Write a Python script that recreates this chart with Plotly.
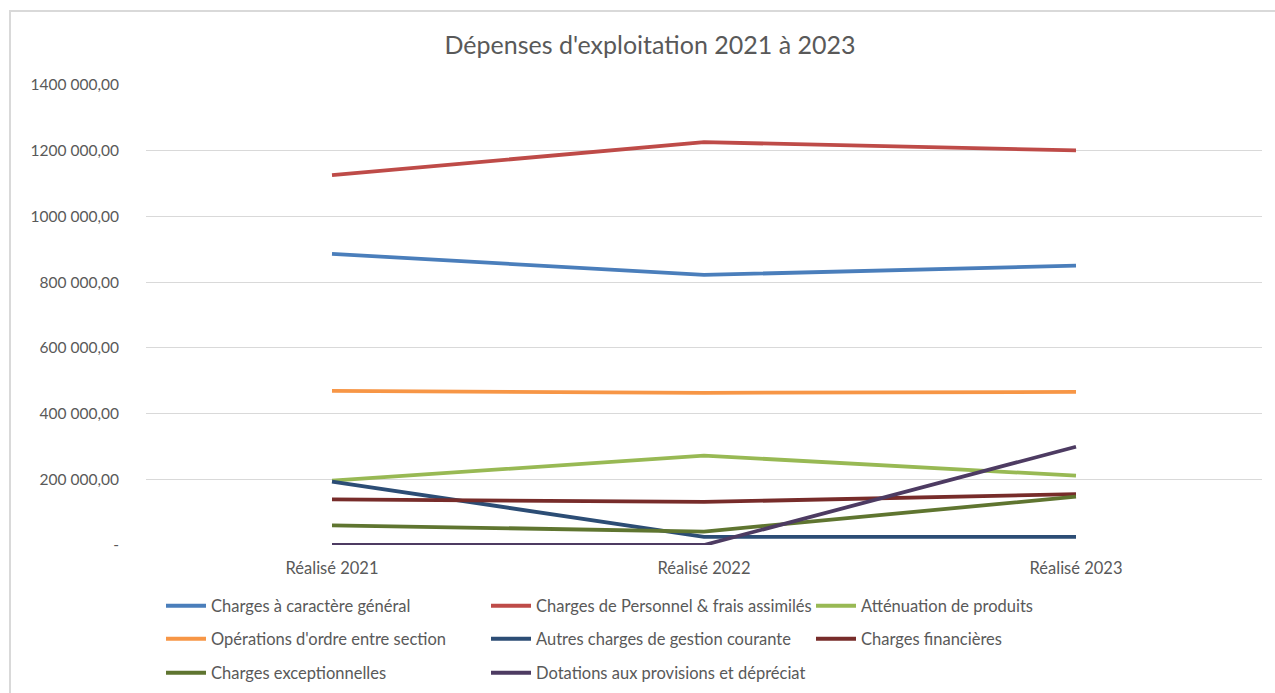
import plotly.graph_objects as go

# Operating expenses by budget line, 2021-2023
years = ["Réalisé 2021", "Réalisé 2022", "Réalisé 2023"]

charges_generales = [886000, 822000, 850000]
charges_personnel = [1126000, 1226000, 1201000]
attenuation_produits = [196000, 272000, 211000]
operations_ordre = [469000, 463000, 466000]
autres_charges = [193000, 25000, 25000]
charges_financieres = [139000, 131000, 155000]
charges_exceptionnelles = [60000, 41000, 147000]
dotations_provisions = [0, 0, 299000]

tick_values = [0, 200000, 400000, 600000, 800000, 1000000, 1200000, 1400000]
tick_labels = ["-", "200 000,00", "400 000,00", "600 000,00", "800 000,00",
               "1000 000,00", "1200 000,00", "1400 000,00"]

series = [
    ("Charges à caractère général", charges_generales, "#4a7ebb", "legend"),
    ("Charges de Personnel & frais assimilés", charges_personnel, "#be4b48", "legend"),
    ("Atténuation de produits", attenuation_produits, "#98b954", "legend"),
    ("Opérations d'ordre entre section", operations_ordre, "#f79646", "legend2"),
    ("Autres charges de gestion courante", autres_charges, "#2c4d75", "legend2"),
    ("Charges financières", charges_financieres, "#772c2a", "legend2"),
    ("Charges exceptionnelles", charges_exceptionnelles, "#5f7530", "legend3"),
    ("Dotations aux provisions et dépréciat", dotations_provisions, "#4d3b62", "legend3"),
]

FONT = "Lato"
GREY = "#595959"

fig = go.Figure()
for name, values, color, leg in series:
    fig.add_trace(go.Scatter(
        x=years, y=values, name=name, mode="lines",
        line=dict(color=color, width=3.8),
        legend=leg,
    ))

W, H = 1275, 693
L, R, T, B = 146, 13, 85, 148
pw, ph = W - L - R, H - T - B

def legend_row(ypix):
    return dict(
        orientation="h", xref="container", yref="container",
        x=161 / W, y=1 - ypix / H, xanchor="left", yanchor="middle",
        itemwidth=40,
        entrywidth=270, entrywidthmode="pixels",
        font=dict(family=FONT, size=16.5, color=GREY),
        bgcolor="rgba(0,0,0,0)", itemclick=False, itemdoubleclick=False,
    )

fig.update_layout(
    width=W, height=H,
    margin=dict(l=L, r=R, t=T, b=B),
    paper_bgcolor="white", plot_bgcolor="white",
    font=dict(family=FONT, color=GREY),
    title=dict(
        text="Dépenses d'exploitation 2021 à 2023",
        xref="container", yref="container",
        x=650 / W, y=1 - 45 / H, xanchor="center", yanchor="middle",
        font=dict(family=FONT, size=25, color=GREY),
    ),
    xaxis=dict(
        range=[-0.5, 2.5], showgrid=False, zeroline=False, showline=False,
        ticks="", tickfont=dict(family=FONT, size=16.5, color=GREY),
        ticklabelstandoff=11,
    ),
    yaxis=dict(
        range=[0, 1400000], tickvals=tick_values, ticktext=tick_labels,
        showgrid=True, gridcolor="#d9d9d9", gridwidth=1.3,
        zeroline=False, showline=False, ticks="",
        tickfont=dict(family=FONT, size=15.5, color=GREY),
        ticklabelstandoff=26,
    ),
    legend=legend_row(606),
    legend2=legend_row(639),
    legend3=legend_row(673),
    shapes=[dict(
        type="rect", xref="paper", yref="paper",
        x0=(10 - L) / pw, x1=(1290 - L) / pw,
        y0=(T + ph - 705) / ph, y1=(T + ph - 11) / ph,
        line=dict(color="#d9d9d9", width=2), fillcolor="rgba(0,0,0,0)",
        layer="below",
    )],
)

fig.write_html("out.html")
